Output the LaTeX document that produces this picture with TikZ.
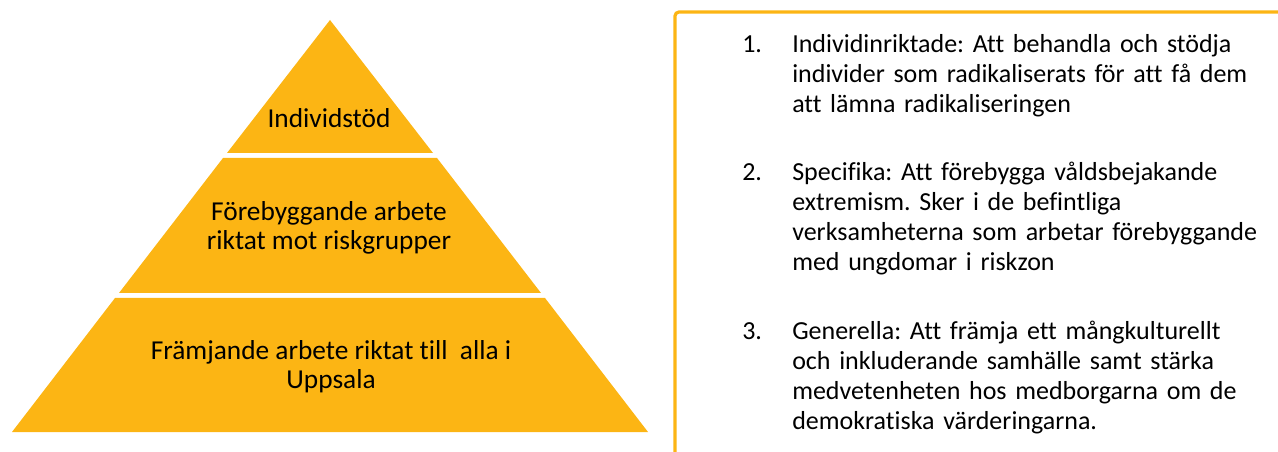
\documentclass[tikz,border=0pt]{standalone}
\usepackage{fontspec}
\setmainfont{Carlito}[Ligatures=NoCommon]
\usepackage{enumitem}
\usetikzlibrary{positioning}

\definecolor{pyramidgold}{RGB}{252,181,20}

\tikzset{
    tier/.style={fill=pyramidgold},
    tierlabel/.style={align=center,inner sep=0pt,font=\fontsize{20.5}{21.75}\selectfont},
}

\begin{document}
\frenchspacing
\begin{tikzpicture}[x=0.75pt,y=-0.75pt]

    \useasboundingbox (0,0) rectangle (1278,452);
    \clip (0,0) rectangle (1278,452);

    % Top tier: individual support
    \fill [tier] (330,20) -- (433,153) -- (227,153) -- cycle;
    \node [tierlabel] (top) at (329,118) {Individstöd};

    % Middle tier: risk groups
    \fill [tier] (223,158) -- (437,158) -- (541,293) -- (119,293) -- cycle;
    \node [tierlabel] (mid) at (329,228) {Förebyggande arbete\\riktat mot riskgrupper};

    % Bottom tier: everyone
    \fill [tier] (115,298) -- (545,298) -- (648,432) -- (12,432) -- cycle;
    \node [tierlabel] (base) at (331,367) {Främjande arbete riktat till~ alla i\\Uppsala};

    % Frame on the right
    \draw [pyramidgold,line width=2.4pt,rounded corners=3pt] (675,12) rectangle (1300,480);

    % Numbered list
    \node [anchor=north west,inner sep=0pt,text width=420pt,font=\fontsize{19.5}{22.5}\selectfont] (list) at (742,22)
    {\raggedright
    \begin{enumerate}[label=\arabic*.,align=left,leftmargin=37.5pt,labelwidth=37.5pt,labelsep=0pt,itemindent=0pt,topsep=0pt,partopsep=0pt,parsep=0pt,itemsep=29pt]
        \item Individinriktade: Att behandla och stödja\\
              individer som radikaliserats för att få dem\\
              att lämna radikaliseringen
        \item Specifika: Att förebygga våldsbejakande\\
              extremism. Sker i de befintliga\\
              verksamheterna som arbetar förebyggande\\
              med ungdomar i riskzon
        \item Generella: Att främja ett mångkulturellt\\
              och inkluderande samhälle samt stärka\\
              medvetenheten hos medborgarna om de\\
              demokratiska värderingarna.
    \end{enumerate}};

\end{tikzpicture}
\end{document}
